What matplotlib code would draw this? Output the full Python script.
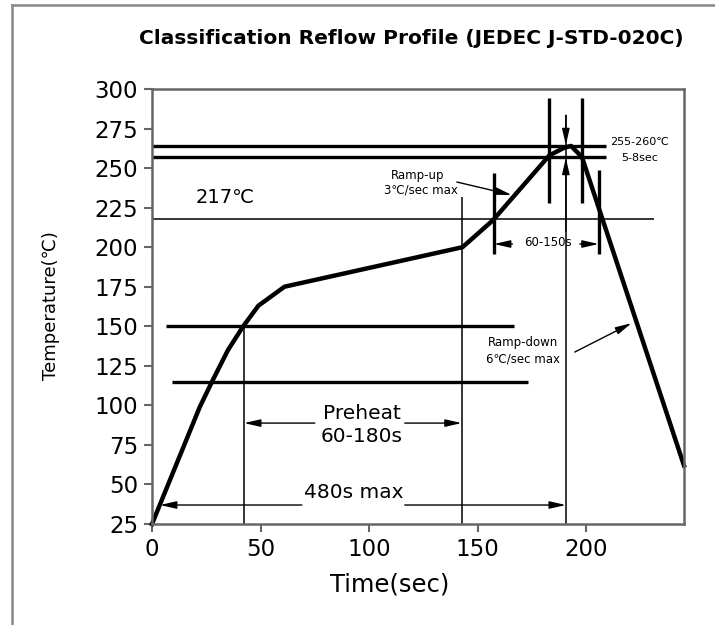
import numpy as np
import matplotlib.pyplot as plt
from matplotlib.lines import Line2D

plt.rcParams['font.family'] = ['DejaVu Sans']

# reflow profile (time in s, temperature in degC)
t_prof = [0, 22, 28, 35, 42, 49, 61, 143, 157, 183, 190, 193, 198, 245]
T_prof = [25, 99, 116, 135, 150, 163, 175, 200, 217, 258, 263, 264, 257, 62]

# horizontal guide lines: (y, x start, x end, width)
h_y = [264, 257, 217.5, 150, 115]
h_x0 = [0, 0, 0, 6.3, 9.2]
h_x1 = [209, 209, 231, 166.5, 173]
h_lw = [2.4, 2.4, 1.1, 2.4, 2.4]

# vertical guide lines: (x, y start, y end, width)
v_x = [42.4, 142.6, 190.6, 182.9, 197.9, 157.5, 205.7]
v_y0 = [25, 25, 25, 228, 228, 196, 196]
v_y1 = [150, 232, 283.5, 294, 294, 247, 249]
v_lw = [1.1, 1.1, 1.1, 2.4, 2.4, 2.4, 2.4]

xticks = [0, 50, 100, 150, 200]
yticks = list(range(25, 301, 25))

fig = plt.figure(figsize=(7.15, 6.25), dpi=100)
ax = fig.add_axes([0.2126, 0.1616, 0.744, 0.696])

# outer frame
fig.add_artist(Line2D([12/715, 12/715], [0, 1 - 5/625], color='#888888', lw=1.8, transform=fig.transFigure))
fig.add_artist(Line2D([12/715, 1], [1 - 5/625, 1 - 5/625], color='#888888', lw=1.8, transform=fig.transFigure))

for y, a, b, w in zip(h_y, h_x0, h_x1, h_lw):
    ax.plot([a, b], [y, y], color='black', lw=w, solid_capstyle='butt')
for x, a, b, w in zip(v_x, v_y0, v_y1, v_lw):
    ax.plot([x, x], [a, b], color='black', lw=w, solid_capstyle='butt')

ax.plot(t_prof, T_prof, color='black', lw=3.2, solid_joinstyle='round', clip_on=False)

arr = dict(arrowstyle='-|>,head_width=0.16,head_length=0.7', color='black', lw=1.0,
           shrinkA=0, shrinkB=0, mutation_scale=14)

def arrow(x0, y0, x1, y1):
    ax.annotate('', xy=(x1, y1), xytext=(x0, y0), arrowprops=arr)

# preheat
arrow(75, 88.8, 42.4, 88.8)
arrow(116.4, 88.8, 142.6, 88.8)
ax.text(96.6, 95, 'Preheat', ha='center', va='center', fontsize=14.5)
ax.text(96.6, 80.5, '60-180s', ha='center', va='center', fontsize=14.5)

# 480s max
arrow(69, 37, 3.7, 37)
arrow(116.4, 37, 190.6, 37)
ax.text(92.9, 45, '480s max', ha='center', va='center', fontsize=14.5)

# peak
arrow(190.6, 283.5, 190.6, 264.5)
arrow(190.6, 210, 190.6, 256.5)
ax.text(224.6, 266.7, '255-260℃', ha='center', va='center', fontsize=8)
ax.text(224.6, 256.3, '5-8sec', ha='center', va='center', fontsize=8)

# 60-150s
arrow(166, 202, 157.5, 202)
arrow(197, 202, 205.7, 202)
ax.text(182.2, 203, '60-150s', ha='center', va='center', fontsize=8.5)

# ramp up / down
arrow(140.4, 241.2, 165.7, 233)
ax.text(122.5, 245.5, 'Ramp-up', ha='center', va='center', fontsize=8.5)
ax.text(124, 236, '3℃/sec max', ha='center', va='center', fontsize=8.5)
arrow(194.7, 133.7, 220.9, 152)
ax.text(170.7, 139.5, 'Ramp-down', ha='center', va='center', fontsize=8.5)
ax.text(170.7, 129.5, '6℃/sec max', ha='center', va='center', fontsize=8.5)

ax.text(33.6, 231.7, '217℃', ha='center', va='center', fontsize=14)

ax.set_xlim(0, 245)
ax.set_ylim(25, 300)
ax.set_xticks(xticks)
ax.set_yticks(yticks)
ax.tick_params(direction='out', length=6, width=1.5, color='#666666', labelsize=16.5, pad=4)
for s in ax.spines.values():
    s.set_color('#666666')
    s.set_linewidth(1.8)

ax.set_xlabel('Time(sec)', fontsize=17.5)
ax.xaxis.set_label_coords(0.447, -0.112)
ax.set_ylabel('Temperature(℃)', fontsize=13)
ax.yaxis.set_label_coords(-0.173, 0.503)

fig.text(411/715, 1 - 38/625, 'Classification Reflow Profile (JEDEC J-STD-020C)',
         ha='center', va='center', fontsize=14.5, fontweight='bold')

fig.savefig('out.png', dpi=100)
